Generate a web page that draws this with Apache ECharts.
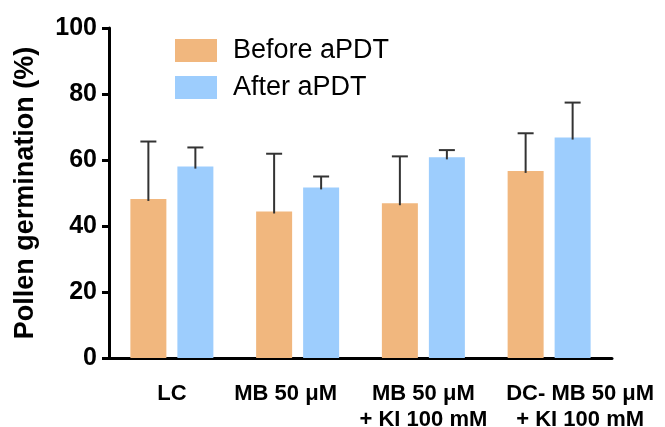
<!DOCTYPE html>
<html>
<head>
<meta charset="utf-8">
<script src="https://cdn.jsdelivr.net/npm/echarts@6/dist/echarts.min.js"></script>
<style>
html, body { margin: 0; padding: 0; background: #fff; }
#chart { width: 665px; height: 427px; }
</style>
</head>
<body>
<div id="chart"></div>
<script>
var categories = ["LC", "MB 50 μM", "MB 50 μM\n+ KI 100 mM", "DC- MB 50 μM\n+ KI 100 mM"];
var seriesNames = ["Before aPDT", "After aPDT"];
var beforeMean = [48.2, 44.4, 46.9, 56.7];
var beforeErr = [17.4, 17.5, 14.2, 11.4];
var afterMean = [58.0, 51.7, 60.8, 66.8];
var afterErr = [5.8, 3.3, 2.2, 10.6];
var yTicks = [0, 20, 40, 60, 80, 100];

var BAR_W = 36, BAR_GAP = 11;

function errData(mean, err) {
	var out = [];
	for (var i = 0; i < mean.length; i++) {
		out.push([i, mean[i], mean[i] + err[i]]);
	}
	return out;
}

function errRender(side) {
	return function (params, api) {
		var off = side * (BAR_W + BAR_GAP) / 2;
		var bottom = api.coord([api.value(0), api.value(1)]);
		var top = api.coord([api.value(0), api.value(2)]);
		var x = bottom[0] + off;
		var style = { stroke: "#333", lineWidth: 2 };
		return {
			type: "group",
			children: [
				{ type: "line", shape: { x1: x, y1: bottom[1] + 2, x2: x, y2: top[1] }, style: style },
				{ type: "line", shape: { x1: x - 8, y1: top[1], x2: x + 8, y2: top[1] }, style: style }
			]
		};
	};
}

// label nudges (GraphPad placed these by hand)
var lbl = { fontSize: 22, fontWeight: "bold", color: "#000", lineHeight: 26 };
function rich(pad) { return Object.assign({ padding: pad }, lbl); }

var chart = echarts.init(document.getElementById("chart"));
var opt = {
	animation: false,
	textStyle: { fontFamily: "Liberation Sans, Arial, sans-serif" },
	grid: { left: 109, right: 53, top: 28, bottom: 69, outerBoundsMode: "none", containLabel: false },
	legend: {
		orient: "vertical",
		left: 170,
		top: 32,
		itemWidth: 42,
		itemHeight: 23,
		itemGap: 10,
		icon: "rect",
		data: seriesNames,
		textStyle: { fontSize: 27, color: "#000", padding: [0, 0, 0, 11] }
	},
	xAxis: {
		type: "category",
		data: categories,
		axisLine: { lineStyle: { color: "#000", width: 3 } },
		axisTick: { alignWithLabel: true, length: 7, lineStyle: { color: "#000", width: 3 } },
		axisLabel: {
			interval: 0,
			margin: 23,
			fontSize: 22,
			fontWeight: "bold",
			color: "#000",
			lineHeight: 25,
			formatter: function (v, i) {
				var key = ["c", "l", "c", "r"][i];
				return v.split("\n").map(function (s) { return "{" + key + "|" + s + "}"; }).join("\n");
			},
			rich: {
				c: rich([0, 0, 0, 0]),
				l: rich([0, 24, 0, 0]),
				r: rich([0, 0, 0, 62])
			}
		}
	},
	yAxis: {
		type: "value",
		min: 0,
		max: 100,
		interval: 20,
		name: "Pollen germination (%)",
		nameLocation: "middle",
		nameGap: 70,
		nameTextStyle: { fontSize: 27, fontWeight: "bold", color: "#000" },
		axisLine: { show: true, lineStyle: { color: "#000", width: 3 } },
		axisTick: { show: true, length: 7, lineStyle: { color: "#000", width: 3 } },
		splitLine: { show: false },
		axisLabel: {
			fontSize: 25,
			fontWeight: "bold",
			color: "#000",
			margin: 12,
			formatter: function (v) { return yTicks.indexOf(v) >= 0 ? String(v) : ""; }
		}
	},
	series: [
		{
			name: seriesNames[0],
			type: "bar",
			data: beforeMean,
			barWidth: BAR_W,
			barGap: (BAR_GAP / BAR_W * 100) + "%",
			itemStyle: { color: "#f1b77e" },
			z: 2
		},
		{
			name: seriesNames[1],
			type: "bar",
			data: afterMean,
			barWidth: BAR_W,
			itemStyle: { color: "#9dcdfd" },
			z: 2
		},
		{
			type: "custom",
			data: errData(beforeMean, beforeErr),
			renderItem: errRender(-1),
			z: 3,
			silent: true
		},
		{
			type: "custom",
			data: errData(afterMean, afterErr),
			renderItem: errRender(1),
			z: 3,
			silent: true
		}
	]
};
chart.setOption(opt);
</script>
</body>
</html>
